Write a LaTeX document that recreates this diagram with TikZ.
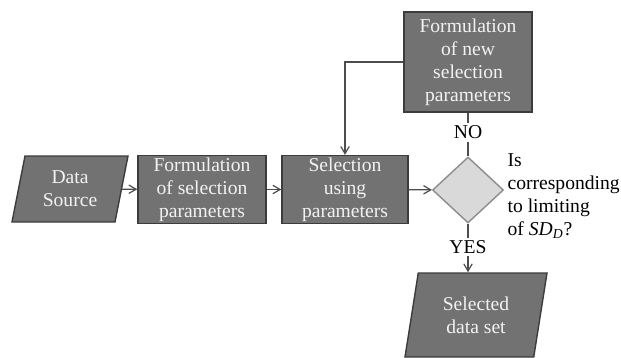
\documentclass[tikz,border=0pt]{standalone}
\usepackage{fontspec}
\setmainfont{Liberation Serif}
\usetikzlibrary{positioning, arrows, shapes}

\definecolor{boxfill}{HTML}{727272}
\definecolor{boxline}{HTML}{3C3C3C}
\definecolor{boxtext}{HTML}{F2F2F2}
\definecolor{decfill}{HTML}{D9D9D9}
\definecolor{decline}{HTML}{8C8C8C}
\definecolor{flow}{HTML}{4D4D4D}

\tikzset{
  box/.style = {draw=boxline, fill=boxfill, text=boxtext, line width=0.7pt,
    align=center, inner sep=1pt, font=\fontsize{9.8}{11.5}\selectfont},
  io/.style = {box, trapezium, trapezium left angle=72, trapezium right angle=108,
    trapezium stretches body},
  decision/.style = {diamond, draw=decline, fill=decfill, line width=0.7pt, inner sep=0pt},
  lbl/.style = {inner sep=1pt, font=\fontsize{9.8}{11.5}\selectfont}
}

\begin{document}
\begin{tikzpicture}[x=0.5pt, y=-0.5pt, >=angle 60, line width=0.6pt]
  \useasboundingbox (0,0) rectangle (621,358);

  \node[io, minimum width=58pt, minimum height=33pt] (src) at (70,189) {Data\\Source};
  \node[box, minimum width=64pt, minimum height=33.5pt] (form) at (202,189.5) {Formulation\\of selection\\parameters};
  \node[box, minimum width=63pt, minimum height=33.5pt] (sel) at (345,189.5) {Selection\\using\\parameters};
  \node[decision, minimum width=35.5pt, minimum height=33pt] (dec) at (468,190) {};
  \node[box, minimum width=64pt, minimum height=50pt] (newp) at (468,62) {Formulation\\of new\\selection\\parameters};
  \node[io, minimum width=71pt, minimum height=42pt] (out) at (476,315) {Selected\\data set};

  \node[lbl, align=left, anchor=west] (ask) at (505,196)
    {Is\\corresponding\\to limiting\\of \textit{SD\textsubscript{D}}?};
  \path (newp.south) -- node[lbl, pos=0.45] (no) {NO} (dec.north);
  \path (dec.south) -- node[lbl, pos=0.48] (yes) {YES} (dec.south |- out.north);

  \path[->, draw=flow]
    (src) edge (form)
    (form) edge (sel)
    (sel) edge (dec)
  ;
  \draw[flow] (newp) -- (no) (no) -- (dec);
  \draw[flow] (dec) -- (yes);
  \draw[->, flow] (yes) -- (yes |- out.north);
  \draw[->, flow] (newp.west) -| (sel.north);
\end{tikzpicture}
\end{document}
